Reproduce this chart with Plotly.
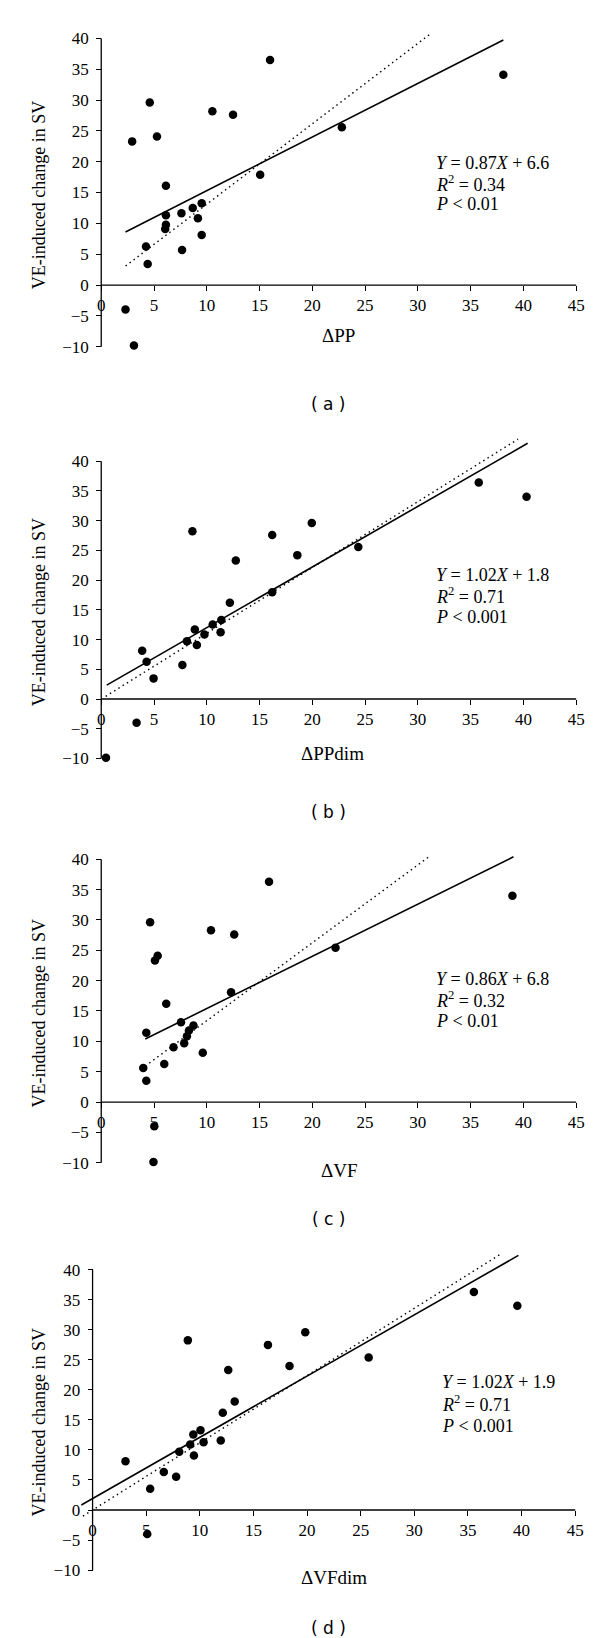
import plotly.graph_objects as go

# ---------------- data ----------------
panel_labels = ["( a )", "( b )", "( c )", "( d )"]
x_titles = ["ΔPP", "ΔPPdim", "ΔVF", "ΔVFdim"]
y_title = "VE-induced change in SV"

x_a = [2.3, 3.1, 2.93, 4.6, 5.28, 4.24, 4.4, 6.13, 6.13, 6.13, 6.06, 7.6, 7.66, 8.67, 9.16, 9.52, 9.52, 10.53, 12.49, 15.06, 16.0, 22.8, 38.1]
y_a = [-3.96, -9.8, 23.3, 29.6, 24.1, 6.26, 3.4, 16.1, 11.3, 9.77, 9.07, 11.66, 5.67, 12.5, 10.85, 13.28, 8.1, 28.2, 27.6, 17.9, 36.5, 25.6, 34.1]

x_b = [3.88, 4.3, 4.96, 3.35, 0.45, 7.69, 8.12, 8.64, 8.87, 9.06, 9.78, 10.56, 11.31, 11.38, 12.19, 12.75, 16.2, 16.2, 18.58, 19.95, 24.36, 35.77, 40.3]
y_b = [8.11, 6.27, 3.47, -4.0, -9.9, 5.7, 9.73, 28.2, 11.7, 9.1, 10.85, 12.53, 11.24, 13.3, 16.17, 23.3, 27.6, 17.96, 24.2, 29.6, 25.57, 36.4, 34.0]

x_c = [3.98, 4.27, 4.27, 4.63, 5.09, 5.35, 6.16, 5.97, 6.85, 7.56, 7.86, 8.12, 8.31, 8.74, 9.62, 10.4, 12.3, 12.6, 15.9, 22.2, 38.96, 5.03, 4.95]
y_c = [5.59, 3.51, 11.4, 29.6, 23.3, 24.1, 16.2, 6.25, 9.04, 13.15, 9.7, 10.85, 11.8, 12.6, 8.1, 28.3, 18.1, 27.6, 36.3, 25.4, 34.0, -4.0, -9.9]

x_d = [3.07, 5.37, 5.1, 6.64, 7.79, 8.08, 8.88, 9.1, 9.39, 9.45, 10.06, 10.35, 11.95, 12.14, 12.65, 13.25, 16.35, 18.36, 19.83, 25.74, 35.55, 39.6]
y_d = [8.14, 3.55, -4.0, 6.32, 5.54, 9.7, 28.25, 10.9, 12.58, 9.09, 13.3, 11.3, 11.58, 16.18, 23.3, 18.06, 27.5, 24.0, 29.6, 25.4, 36.3, 34.0]

# regression (solid): slope, intercept, x-extent
fit_slope = [0.87, 1.02, 0.86, 1.02]
fit_icpt = [6.6, 1.8, 6.8, 1.9]
fit_xrange = [[2.3, 38.1], [0.52, 40.4], [4.17, 39.06], [-1.05, 39.7]]
# dotted line: slope, intercept, x-extent
dot_slope = [1.304, 1.107, 1.283, 1.12]
dot_icpt = [0.07, -0.015, 0.57, 0.0]
dot_xrange = [[2.31, 31.07], [0.42, 39.49], [4.17, 31.24], [-0.9, 37.94]]

eq_text = [
    ["<i>Y</i> = 0.87<i>X</i> + 6.6", "<i>R</i><sup>2</sup> = 0.34", "<i>P</i> &lt; 0.01"],
    ["<i>Y</i> = 1.02<i>X</i> + 1.8", "<i>R</i><sup>2</sup> = 0.71", "<i>P</i> &lt; 0.001"],
    ["<i>Y</i> = 0.86<i>X</i> + 6.8", "<i>R</i><sup>2</sup> = 0.32", "<i>P</i> &lt; 0.01"],
    ["<i>Y</i> = 1.02<i>X</i> + 1.9", "<i>R</i><sup>2</sup> = 0.71", "<i>P</i> &lt; 0.001"],
]

x_ticks = [0, 5, 10, 15, 20, 25, 30, 35, 40, 45]
y_ticks = [-10, -5, 0, 5, 10, 15, 20, 25, 30, 35, 40]

xs_all = [x_a, x_b, x_c, x_d]
ys_all = [y_a, y_b, y_c, y_d]

# ---------------- layout geometry (pixels) ----------------
W, H = 600, 1638
# pixel of data x=0, px per x unit, pixel of data y=0, px per y unit
geo = [
    (93.7, 10.607, 277.7, 6.18),
    (93.7, 10.607, 692.7, 5.96),
    (93.7, 10.607, 1096.7, 6.085),
    (85.0, 10.78, 1505.7, 6.02),
]
eq_pos = [  # left x, y of the three text lines (px)
    (428, [155, 175.5, 196.5]),
    (428, [568, 589, 610.5]),
    (428, [973, 994, 1015.5]),
    (434, [1377, 1399, 1421]),
]
xtitle_pos = [(332, 328), (326, 747), (333, 1165), (328, 1573)]
caption_y = [397, 806, 1214, 1624]
caption_x = 322

XLO, XHI = -1.5, 45.5
YLO, YHI = -11.0, 44.0

SERIF = "Liberation Serif, Times New Roman, serif"
TICKFONT = dict(family=SERIF, size=17, color="black")

fig = go.Figure()
layout = dict(
    width=W, height=H, autosize=False,
    margin=dict(l=0, r=0, t=0, b=0),
    paper_bgcolor="white", plot_bgcolor="white",
    showlegend=False,
    font=dict(family=SERIF, size=17, color="black"),
)
shapes = []
annotations = []

for i in range(4):
    n = i + 1
    xa = "x" if n == 1 else f"x{n}"
    ya = "y" if n == 1 else f"y{n}"
    x0, xs, y0, ys = geo[i]
    left = x0 + XLO * xs
    right = x0 + XHI * xs
    top = y0 - YHI * ys
    bottom = y0 - YLO * ys

    layout[f"xaxis{'' if n == 1 else n}"] = dict(
        domain=[left / W, right / W], range=[XLO, XHI],
        anchor="free", position=1 - y0 / H,
        showline=False, showgrid=False, zeroline=False,
        ticks="outside", ticklen=5, tickwidth=1.2, tickcolor="black",
        tickmode="array", tickvals=x_ticks,
        tickfont=TICKFONT,
        ticklabelstandoff=0,
    )
    layout[f"yaxis{'' if n == 1 else n}"] = dict(
        domain=[1 - bottom / H, 1 - top / H], range=[YLO, YHI],
        anchor="free", position=x0 / W,
        showline=False, showgrid=False, zeroline=False,
        ticks="outside", ticklen=5, tickwidth=1.2, tickcolor="black",
        tickmode="array", tickvals=y_ticks,
        tickfont=TICKFONT,
        ticklabelstandoff=4,
    )

    # axis lines
    shapes.append(dict(type="line", xref=xa, yref=ya, x0=0, x1=0,
                       y0=y_ticks[0], y1=y_ticks[-1],
                       line=dict(color="black", width=1.3)))
    shapes.append(dict(type="line", xref=xa, yref=ya, x0=x_ticks[0], x1=x_ticks[-1],
                       y0=0, y1=0, line=dict(color="black", width=1.3)))

    # dotted line
    dx = dot_xrange[i]
    fig.add_trace(go.Scatter(
        x=dx, y=[dot_slope[i] * v + dot_icpt[i] for v in dx],
        mode="lines", xaxis=xa, yaxis=ya,
        line=dict(color="black", width=1.4, dash="1.5px,3.5px"),
        hoverinfo="skip"))
    # regression line
    fx = fit_xrange[i]
    fig.add_trace(go.Scatter(
        x=fx, y=[fit_slope[i] * v + fit_icpt[i] for v in fx],
        mode="lines", xaxis=xa, yaxis=ya,
        line=dict(color="black", width=1.6), hoverinfo="skip"))
    # points
    fig.add_trace(go.Scatter(
        x=xs_all[i], y=ys_all[i], mode="markers", xaxis=xa, yaxis=ya,
        marker=dict(color="black", size=8.5, line=dict(width=0)),
        cliponaxis=False))

    # equation text
    ex, eys = eq_pos[i]
    for t, ey in zip(eq_text[i], eys):
        annotations.append(dict(
            xref="paper", yref="paper", x=ex / W, y=1 - ey / H,
            xanchor="left", yanchor="middle", showarrow=False, text=t,
            font=dict(family=SERIF, size=18, color="black")))

    # x title
    tx, ty = xtitle_pos[i]
    annotations.append(dict(
        xref="paper", yref="paper", x=tx / W, y=1 - ty / H,
        xanchor="center", yanchor="middle", showarrow=False, text=x_titles[i],
        font=dict(family=SERIF, size=19, color="black")))

    # y title
    annotations.append(dict(
        xref="paper", yref="paper", x=30.7 / W, y=1 - (y0 - 14.5 * ys) / H,
        xanchor="center", yanchor="middle", showarrow=False, text=y_title,
        textangle=-90, font=dict(family=SERIF, size=18, color="black")))

    # caption
    annotations.append(dict(
        xref="paper", yref="paper", x=caption_x / W, y=1 - caption_y[i] / H,
        xanchor="center", yanchor="middle", showarrow=False, text=panel_labels[i],
        font=dict(family="DejaVu Sans", size=17, color="black")))

layout["shapes"] = shapes
layout["annotations"] = annotations
fig.update_layout(**layout)
fig.write_html("out.html")
